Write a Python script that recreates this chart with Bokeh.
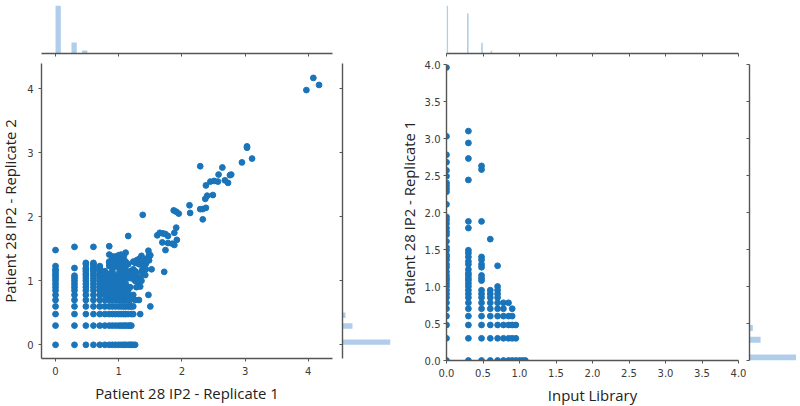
from bokeh.plotting import figure
from bokeh.layouts import row, column
from bokeh.models import FixedTicker, Range1d
from bokeh.embed import file_html
from bokeh.resources import INLINE

# ---- Left panel data: x level of Replicate 1 and the Replicate 2 values seen at it
rep1_levels = [0, .30, .48, .60, .70, .78, .85, .90, .95, 1.0, 1.04, 1.08, 1.11, 1.15, 1.18, 1.20, 1.23, 1.26, 1.28, 1.32, 1.34, 1.36, 1.38, 1.42, 1.43, 1.47, 1.48, 1.50, 1.52]
rep2_at_000 = [0, .30, .48, .60, .70, .78, .85, .90, .95, 1.0, 1.04, 1.08, 1.11, 1.15, 1.18, 1.23, 1.48]
rep2_at_030 = [0, .30, .48, .60, .70, .78, .85, .90, .95, 1.0, 1.04, 1.08, 1.20, 1.53]
rep2_at_048 = [0, .30, .48, .60, .70, .78, .85, .90, .95, 1.0, 1.04, 1.08, 1.11, 1.15, 1.18, 1.20, 1.26, 1.28]
rep2_at_060 = [0, .30, .48, .60, .70, .78, .85, .90, .95, 1.0, 1.04, 1.08, 1.11, 1.15, 1.18, 1.20, 1.23, 1.26, 1.28, 1.53]
rep2_at_070 = [0, .30, .48, .60, .70, .78, .85, .90, .95, 1.0, 1.04, 1.08, 1.11, 1.15, 1.18, 1.20, 1.23]
rep2_at_078 = [0, .30, .48, .60, .70, .78, .85, .90, .95, 1.0, 1.04, 1.08, 1.11, 1.15]
rep2_at_085 = [0, .30, .48, .60, .70, .78, .85, .90, .95, 1.0, 1.04, 1.08, 1.11, 1.23, 1.28, 1.30, 1.41, 1.54]
rep2_at_090 = [0, .30, .48, .60, .70, .78, .85, .90, .95, 1.0, 1.04, 1.08, 1.15, 1.20, 1.28, 1.34, 1.38]
rep2_at_095 = [0, .30, .48, .60, .70, .78, .85, .90, .95, 1.0, 1.04, 1.08, 1.23, 1.26, 1.32, 1.38]
rep2_at_100 = [0, .30, .48, .60, .70, .78, .85, .90, .95, 1.0, 1.04, 1.11, 1.20, 1.30, 1.40]
rep2_at_104 = [0, .30, .48, .60, .70, .78, .85, .90, .95, 1.0, 1.08, 1.15, 1.26, 1.34, 1.41]
rep2_at_108 = [0, .30, .48, .60, .70, .78, .85, .90, .95, 1.04, 1.20, 1.28, 1.32, 1.38]
rep2_at_111 = [0, .30, .48, .60, .70, .78, .85, .90, .95, 1.11, 1.15, 1.23, 1.30, 1.44]
rep2_at_115 = [0, .30, .48, .60, .70, .78, .85, .90, 1.04, 1.26, 1.70]
rep2_at_118 = [0, .30, .60, .70, .90, 1.08, 1.15]
rep2_at_120 = [0, .30, .48, .60, 1.04, 1.11]
rep2_at_123 = [0, .48, .60, .78, 1.08, 1.18, 1.30]
rep2_at_126 = [0, .70, 1.0, 1.15, 1.28]
rep2_at_128 = [.90, 1.04, 1.11, 1.32]
rep2_at_132 = [.70, .96, 1.0, 1.26, 1.34]
rep2_at_134 = [.48, .91, 1.04]
rep2_at_136 = [1.0, 1.15, 1.26, 1.39]
rep2_at_138 = [1.11, 1.20, 1.32, 2.03]
rep2_at_142 = [1.09, 1.26]
rep2_at_143 = [1.18, 1.27, 1.34]
rep2_at_147 = [.78, 1.47, 1.36]
rep2_at_148 = [1.32, 1.40]
rep2_at_150 = [.60, 1.40]
rep2_at_152 = [1.18]
rep2_columns = [rep2_at_000, rep2_at_030, rep2_at_048, rep2_at_060, rep2_at_070, rep2_at_078, rep2_at_085, rep2_at_090,
                rep2_at_095, rep2_at_100, rep2_at_104, rep2_at_108, rep2_at_111, rep2_at_115, rep2_at_118, rep2_at_120,
                rep2_at_123, rep2_at_126, rep2_at_128, rep2_at_132, rep2_at_134, rep2_at_136, rep2_at_138, rep2_at_142,
                rep2_at_143, rep2_at_147, rep2_at_148, rep2_at_150, rep2_at_152]
rep1_upper = [3.97, 4.08, 4.17, 3.03, 3.03, 3.11, 2.95, 2.29, 2.64, 2.58, 2.78, 2.76, 2.68, 2.73, 2.57, 2.51, 2.45, 2.38, 2.49, 2.40, 2.37,
              2.12, 2.13, 2.29, 2.33, 2.38, 2.33, 1.87, 1.91, 1.95, 1.61, 1.65, 1.70, 1.74, 1.78, 1.91, 1.88, 1.69, 1.78, 1.85, 1.88, 1.92, 1.74, 1.72]
rep2_upper = [3.98, 4.17, 4.06, 3.10, 3.08, 2.91, 2.85, 2.79, 2.77, 2.66, 2.66, 2.65, 2.57, 2.53, 2.55, 2.56, 2.55, 2.49, 2.34, 2.33, 2.28,
              2.18, 2.06, 2.12, 2.12, 2.14, 1.96, 2.10, 2.08, 2.05, 1.71, 1.75, 1.74, 1.73, 1.70, 1.83, 1.75, 1.60, 1.59, 1.58, 1.56, 1.64, 1.48, 1.14]

# ---- Right panel data
input_levels = [0, .30, .48, .60, .70, .78, .85, .90, .95, 1.0, 1.04, 1.08]
rep_at_000 = [3.96, 3.03, 2.78, 2.68, 2.57, 2.49, 2.40, 2.36, 2.32, 2.28, 2.11, 1.94, 1.90, 1.85, 1.79, 1.74, 1.70, 1.61, 1.53, 1.49, 1.43, 1.40, 1.36, 1.30, 1.26, 1.20, 1.15, 1.11, 1.08, 1.04, 1.0, .95, .90, .85, .78, .70, .60, .48, .30, 0]
rep_at_030 = [3.10, 2.94, 2.73, 2.44, 1.88, 1.79, 1.49, 1.45, 1.40, 1.34, 1.30, 1.23, 1.18, 1.15, 1.11, 1.08, 1.04, 1.0, .95, .90, .85, .78, .70, .60, .48, .30, 0]
rep_at_048 = [2.63, 2.58, 1.88, 1.40, 1.36, 1.30, 1.26, 1.15, 1.11, 1.08, .95, .90, .85, .78, .70, .60, .48, .30, 0]
rep_at_060 = [1.64, .95, .90, .85, .78, .70, .60, .48, .30, 0]
rep_at_070 = [1.28, 1.0, .95, .90, .85, .78, .70, .60, .48, .30, 0]
rep_at_078 = [.78, .70, .60, .48, .30, 0]
rep_at_085 = [.78, .60, .48, .30, 0]
rep_at_090 = [.70, .60, .48, .30, 0]
rep_at_095 = [.48, .30, 0]
rep_at_100 = [0]
rep_at_104 = [0]
rep_at_108 = [0]
rep_columns = [rep_at_000, rep_at_030, rep_at_048, rep_at_060, rep_at_070, rep_at_078, rep_at_085, rep_at_090, rep_at_095, rep_at_100, rep_at_104, rep_at_108]

# ---- Marginal histograms (bin left edge, relative count)
left_top_edges = [0, .252, .42]
left_top_counts = [1000, 229, 63]
left_side_edges = [0, .252, .42]
left_side_counts = [1000, 208, 63]
right_top_edges = [0, .281, .475, .605]
right_top_counts = [1000, 833, 223, 56]
right_side_edges = [0, .24, .40]
right_side_counts = [1000, 226, 68]
left_bin = .084
right_top_bin = .0216
right_side_bin = .08

left_ticks = [0, 1, 2, 3, 4]
right_ticks = [0, .5, 1, 1.5, 2, 2.5, 3, 3.5, 4]
right_tick_labels = ["0.0", "0.5", "1.0", "1.5", "2.0", "2.5", "3.0", "3.5", "4.0"]
left_xlabel = "Patient 28 IP2 - Replicate 1"
left_ylabel = "Patient 28 IP2 - Replicate 2"
right_xlabel = "Input Library"
right_ylabel = "Patient 28 IP2 - Replicate 1"

DOT = "#1a74ba"
BAR = "#b1cde9"
AXIS = "#555555"
TICK = "#3a3a3a"
LABEL = "#222222"


def base(w, h, fw, fh, l, r, t, b, xr, yr):
    p = figure(width=w, height=h, frame_width=fw, frame_height=fh, x_range=Range1d(*xr), y_range=Range1d(*yr),
               output_backend="svg", toolbar_location=None, min_border_left=l, min_border_right=r,
               min_border_top=t, min_border_bottom=b)
    p.grid.visible = False
    p.outline_line_color = None
    p.background_fill_color = None
    p.border_fill_color = None
    for ax in p.xaxis + p.yaxis:
        ax.axis_line_color = AXIS
        ax.axis_line_width = 1.4
        ax.major_tick_line_color = AXIS
        ax.major_tick_in = 0
        ax.major_tick_out = 3
        ax.minor_tick_line_color = None
        ax.major_label_text_font = "DejaVu Sans"
        ax.major_label_text_font_size = "10px"
        ax.major_label_text_color = TICK
        ax.major_label_standoff = 5
        ax.axis_label_text_font = "Open Sans"
        ax.axis_label_text_font_style = "normal"
        ax.axis_label_text_font_size = "14.9px"
        ax.axis_label_text_color = LABEL
    return p


def no_labels(ax, ticks):
    ax.ticker = FixedTicker(ticks=ticks)
    ax.major_label_overrides = {t: "" for t in ticks}
    ax.major_label_standoff = 0


def main_panel(w, h, fw, fh, l, r, t, b, xr, yr, ticks, labels, xlabel, ylabel, xs, cols, size, y_tick_off, y_lab_off, ex=(), ey=()):
    p = base(w, h, fw, fh, l, r, t, b, xr, yr)
    px, py = [], []
    for x0, ys in zip(xs, cols):
        px += [x0] * len(ys)
        py += ys
    px += list(ex)
    py += list(ey)
    p.scatter(px, py, size=size, color=DOT, line_color=DOT)
    for ax in p.xaxis + p.yaxis:
        ax.ticker = FixedTicker(ticks=ticks)
        if labels:
            ax.major_label_overrides = dict(zip(ticks, labels))
    p.xaxis.axis_label = xlabel
    p.yaxis.axis_label = ylabel
    p.xaxis.axis_label_standoff = 5
    p.yaxis.axis_label_standoff = y_lab_off
    p.yaxis.major_label_standoff = y_tick_off
    return p


def top_panel(w, h, fw, fh, l, r, t, b, xr, edges, counts, bin_w, ticks):
    p = base(w, h, fw, fh, l, r, t, b, xr, (0, 1000))
    p.vbar(x=[e + bin_w / 2 for e in edges], top=counts, width=bin_w, bottom=0, color=BAR, line_color=None)
    p.yaxis.visible = False
    no_labels(p.xaxis[0], ticks)
    return p


def side_panel(w, h, fw, fh, l, r, t, b, yr, edges, counts, bin_h, ticks):
    p = base(w, h, fw, fh, l, r, t, b, (0, 1000), yr)
    p.hbar(y=[e + bin_h / 2 for e in edges], right=counts, height=bin_h, left=0, color=BAR, line_color=None)
    p.xaxis.visible = False
    no_labels(p.yaxis[0], ticks)
    return p


def spacer(w, h):
    s = figure(width=w, height=h, output_backend="svg", toolbar_location=None, outline_line_color=None)
    s.axis.visible = False
    s.grid.visible = False
    s.background_fill_color = None
    s.border_fill_color = None
    return s


L_X = (-0.222, 4.383)
L_Y = (-0.214, 4.395)
R_X = (0, 4)
R_Y = (0, 4)

top_l = top_panel(337, 60, 291, 48, 42, 4, 2, 10, L_X, left_top_edges, left_top_counts, left_bin, left_ticks)
main_l = main_panel(337, 343, 291, 295, 42, 4, 0, 48, L_X, L_Y, left_ticks, None, left_xlabel, left_ylabel,
                    rep1_levels, rep2_columns, 5.8, 5, 4, rep1_upper, rep2_upper)
side_l = side_panel(55, 343, 48, 295, 6, 1, 0, 48, L_Y, left_side_edges, left_side_counts, left_bin, left_ticks)

top_r = top_panel(355, 54, 292, 48, 55, 8, 2, 4, R_X, right_top_edges, right_top_counts, right_top_bin, right_ticks)
main_r = main_panel(355, 349, 292, 296, 55, 8, 7, 46, R_X, R_Y, right_ticks, right_tick_labels, right_xlabel, right_ylabel,
                    input_levels, rep_columns, 5.8, 3, 3)
side_r = side_panel(52, 349, 49, 296, 3, 0, 7, 46, R_Y, right_side_edges, right_side_counts, right_side_bin, right_ticks)

col1 = column(top_l, main_l, spacing=0)
col2 = column(spacer(55, 60), side_l, spacing=0)
col3 = column(top_r, main_r, spacing=0)
col4 = column(spacer(52, 54), side_r, spacing=0, margin=(0, 0, 0, -2))

root = row(col1, col2, col3, col4, spacing=0, margin=(3, 0, 0, -3))

open("out.html", "w").write(file_html(root, INLINE))
